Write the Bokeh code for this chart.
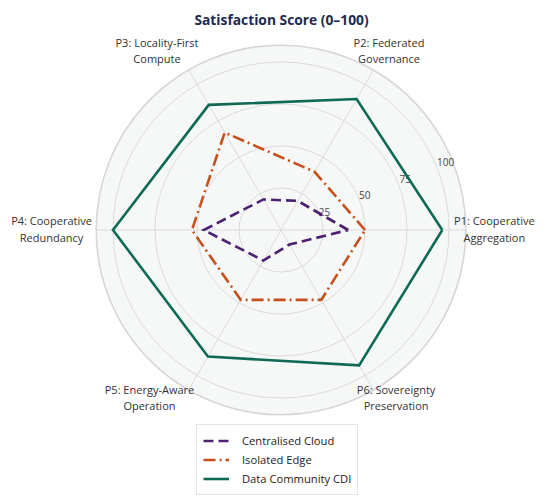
import numpy as np
from bokeh.plotting import figure
from bokeh.models import Range1d, Legend, LegendItem
from bokeh.core.properties import value
from bokeh.embed import file_html
from bokeh.resources import INLINE

# ---- data ----
categories = ["P1: Cooperative\nAggregation", "P2: Federated\nGovernance",
              "P3: Locality-First\nCompute", "P4: Cooperative\nRedundancy",
              "P5: Energy-Aware\nOperation", "P6: Sovereignty\nPreservation"]
centralised_cloud = [40, 20, 21, 46, 21, 10]
isolated_edge = [50, 40, 67, 53, 48, 48]
data_community_cdi = [96, 90, 86, 100, 87, 93]
series_names = ["Centralised Cloud", "Isolated Edge", "Data Community CDI"]
radial_ticks = [25, 50, 75, 100]
radial_tick_labels = ["25", "50", "75", "100"]
title_text = "Satisfaction Score (0\u2013100)"

W, H = 542, 496
cx, cy = 280.5, 229.5   # centre in figure pixels
s = 1.68                # pixels per unit
RMAX = 110

p = figure(width=W, height=H, output_backend="svg", toolbar_location=None,
           x_range=Range1d((0 - cx) / s, (W - cx) / s),
           y_range=Range1d((cy - H) / s, cy / s),
           min_border=0)
p.axis.visible = False
p.grid.visible = False
p.outline_line_color = None
p.background_fill_color = "white"
p.border_fill_color = "white"

FONT = "Open Sans"
n = len(categories)
ang = np.arange(n) * 2 * np.pi / n

# background disc
p.circle(x=[0], y=[0], radius=RMAX, fill_color="#f6f7f7",
         line_color="#d6d6d6", line_width=1.6)
# rings
for r in radial_ticks:
    p.circle(x=[0], y=[0], radius=r, fill_color=None,
             line_color="#dadada", line_width=1)
# spokes
p.segment(x0=np.zeros(n), y0=np.zeros(n), x1=RMAX * np.cos(ang),
          y1=RMAX * np.sin(ang), line_color="#dadada", line_width=1)

# radial tick labels at 22.5 deg
ta = np.deg2rad(22.5)
rl = np.array(radial_ticks) * 1.04 + 2
p.text(x=rl * np.cos(ta), y=rl * np.sin(ta), text=radial_tick_labels,
       text_font=value(FONT), text_font_size="10px", text_color="#444444",
       text_align="center", text_baseline="middle")

# series
colors = ["#4b2170", "#c4501b", "#0e6a55"]
dashes = ["10 5", "12 4 2 4", "solid"]
items = []
for name, vals, col, dash in zip(series_names,
                                 [centralised_cloud, isolated_edge, data_community_cdi],
                                 colors, dashes):
    v = np.array(vals + vals[:1], dtype=float)
    a = np.append(ang, ang[0])
    r = p.line(v * np.cos(a), v * np.sin(a), line_color=col, line_width=2.6,
               line_dash=dash, line_join="miter")
    items.append(LegendItem(label=name, renderers=[r]))

# category labels
lab_x = [127, 64.3, -73.8, -136.6, -78.3, 68.5]
lab_y = [0.5, 106.8, 106.8, 0.5, -99.7, -99.7]
p.text(x=lab_x, y=lab_y, text=categories, text_font=value(FONT),
       text_font_size="11px", text_color="#333333", text_align="center",
       text_baseline="middle", text_line_height=1.12)

# title
p.text(x=[(281 - cx) / s], y=[(cy - 18.5) / s], text=[title_text],
       text_font=value(FONT), text_font_size="13.8px", text_font_style="bold",
       text_color="#1d2b4f", text_align="center", text_baseline="middle")

legend = Legend(items=items, location=(196, 1), orientation="vertical",
                label_text_font=FONT, label_text_font_size="11.2px",
                label_text_color="#222222", glyph_width=26, glyph_height=19,
                label_height=19, label_standoff=13, spacing=0, padding=6,
                margin=0, border_line_color="#cccccc", border_line_width=1,
                background_fill_color="white", background_fill_alpha=1)
p.add_layout(legend, "center")

open("out.html", "w").write(file_html(p, INLINE))
